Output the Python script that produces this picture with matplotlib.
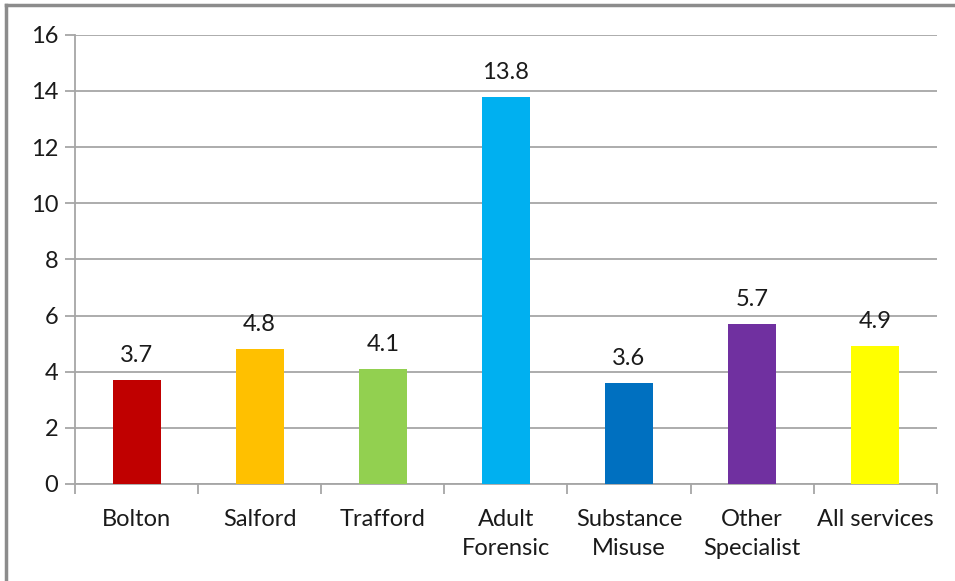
import matplotlib.pyplot as plt

# services and their rates
services = ["Bolton", "Salford", "Trafford", "Adult\nForensic",
            "Substance\nMisuse", "Other\nSpecialist", "All services"]
rates = [3.7, 4.8, 4.1, 13.8, 3.6, 5.7, 4.9]
colours = ["#C00000", "#FFC000", "#92D050", "#00B0F0",
           "#0070C0", "#7030A0", "#FFFF00"]
yticks = [0, 2, 4, 6, 8, 10, 12, 14, 16]

plt.rcParams["font.family"] = ["Lato", "DejaVu Sans"]

fig = plt.figure(figsize=(9.55, 5.81), dpi=100)
ax = fig.add_axes([0.0785, 0.167, 0.9025, 0.773])

x = range(len(services))
bars = ax.bar(x, rates, width=0.39, color=colours, zorder=3)

for b, v in zip(bars, rates):
    ax.text(b.get_x() + b.get_width() / 2, v + 0.5, f"{v:.1f}",
            ha="center", va="bottom", fontsize=17, color="#1a1a1a")

ax.set_ylim(0, 16)
ax.set_xlim(-0.5, len(services) - 0.5)
ax.set_yticks(yticks)
ax.yaxis.grid(True, color="#a6a6a6", linewidth=1.3, zorder=0)
ax.tick_params(axis="y", length=7, width=1.3, color="#a6a6a6",
               labelsize=17, pad=5, labelcolor="#1a1a1a")

# category labels centred, tick marks sit between categories
ax.set_xticks(list(x))
ax.set_xticklabels(services, fontsize=17, color="#1a1a1a", linespacing=1.5)
ax.tick_params(axis="x", which="major", length=0, pad=18)
ax.set_xticks([i - 0.5 for i in range(len(services) + 1)], minor=True)
ax.tick_params(axis="x", which="minor", length=7, width=1.3, color="#a6a6a6")

for side in ["top", "right"]:
    ax.spines[side].set_visible(False)
for side in ["left", "bottom"]:
    ax.spines[side].set_color("#a6a6a6")
    ax.spines[side].set_linewidth(1.3)

# outer frame, only the top and left edges fall inside the image
fig.add_artist(plt.Line2D([0.0063, 0.0063], [0, 0.9914],
                          transform=fig.transFigure, color="#8c8c8c", lw=2.5))
fig.add_artist(plt.Line2D([0.0063, 1], [0.9914, 0.9914],
                          transform=fig.transFigure, color="#8c8c8c", lw=2.5))

fig.savefig("out.png", dpi=100)
